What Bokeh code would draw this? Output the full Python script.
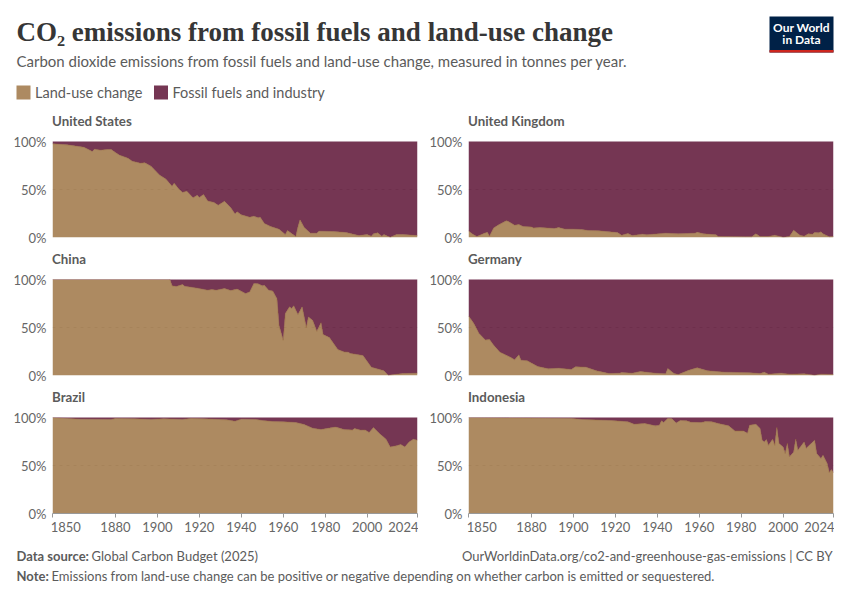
from bokeh.embed import file_html
from bokeh.layouts import column, row
from bokeh.models import BoxAnnotation, ColumnDataSource, FixedTicker, Label, Range1d
from bokeh.plotting import figure
from bokeh.resources import INLINE

# Share of land-use change in CO2 emissions (percent)
us_years = [1850,1857,1865,1869,1870,1873,1876,1878,1880,1882,1886,1888,1892,1894,1897,1901,1904,1907,1908,1910,1912,1914,1917,1919,1920,1922,1924,1927,1929,1932,1935,1937,1938,1940,1944,1946,1948,1949,1951,1954,1958,1961,1962,1966,1967,1968,1970,1973,1976,1977,1984,1990,1996,2000,2002,2003,2005,2007,2008,2011,2014,2017,2024]
us_land = [97.6,96.5,94,89.6,92,91,91.7,91.7,88.5,85.8,82.6,79.5,77.4,77.8,74.3,65,61,53.5,56.6,51,47,48.3,41.3,44,41.7,44.8,38,36.5,33.7,37.8,31,24.6,26.7,23.6,21.2,22.2,20.5,21.2,14.6,11.5,8.7,3,7.3,1,11,18.4,10.4,4.5,4.5,6.6,6.2,5.2,2,3,1.4,3.8,4.9,1.4,3,0.3,3,3,2]

uk_years = [1850,1852,1854,1857,1859,1860,1862,1864,1868,1869,1872,1874,1876,1880,1881,1884,1891,1893,1896,1900,1904,1907,1912,1917,1921,1923,1926,1928,1933,1935,1944,1950,1958,1959,1962,1968,1969,1982,1985,1987,1989,1993,1996,2000,2003,2005,2008,2010,2012,2014,2015,2017,2018,2019,2022,2024]
uk_land = [6.9,3.5,1,4,5.5,1.4,10,12.8,17.4,16.7,12.8,13.5,11.5,11,10,10.4,9.4,10.4,8.7,8.7,8.3,7.3,7,5.9,5.2,2.4,4.2,2,3.5,2.8,4.5,3.8,4.5,5.5,3.8,2.8,1,0.7,0.7,3.8,1,1,2.4,0.3,1,7.6,2.4,1.4,3.8,3.5,5.2,4.9,5.9,3.8,0.7,1]

cn_years = [1850,1906,1907,1909,1912,1913,1919,1924,1926,1928,1932,1935,1938,1942,1944,1946,1948,1950,1951,1953,1955,1957,1958,1960,1961,1963,1964,1965,1967,1969,1971,1972,1974,1976,1978,1979,1982,1986,1989,1991,1992,1998,2002,2008,2010,2013,2017,2024]
cn_land = [100,100,93.4,92.7,94.8,93,91,88.9,89.6,88.9,90.6,88.5,90,85.4,87,95.8,95.5,93.4,94,88.9,88,80,52,36.8,64.6,71.5,69.8,72.6,63.5,71.5,50,61,57.6,46,55,42.7,39.6,27,24.6,24.3,23,20.8,8.7,4.9,0.3,1,2,2.4]

de_years = [1850,1852,1853,1855,1858,1860,1862,1865,1868,1870,1872,1874,1875,1878,1883,1888,1893,1899,1901,1906,1911,1917,1922,1923,1928,1932,1939,1944,1945,1948,1950,1955,1959,1964,1972,1984,1989,1991,1993,1999,2003,2010,2015,2018,2024]
de_land = [62,56,52.4,43.8,37,37.5,31.6,24.3,21,19,16.3,21.5,16,15.3,9.4,7,7.6,6.3,9,8.7,4.9,2,2.4,3,2.4,4.2,2.4,1.7,7.3,2,1,5.5,8,4.9,3.5,2.8,2,3.5,1.4,2.4,1.4,1.7,0.3,1.4,1]

br_years = [1850,1857,1863,1878,1880,1889,1897,1903,1912,1916,1922,1933,1937,1940,1947,1950,1955,1960,1966,1970,1974,1978,1982,1985,1989,1993,1994,1997,1999,2001,2003,2006,2009,2011,2014,2016,2018,2020,2022,2024]
br_land = [100,99,98.3,98,99,98.6,98,98.6,98,99,98.6,97.6,96.2,98.3,98,96.9,95.8,95.5,94.8,92.7,88.9,87.5,89,90,87.5,87,88.5,86.8,87,84.4,89.6,83,77.4,69.4,70.5,72,69.4,74.6,77.4,76.4]

id_years = [1850,1899,1904,1918,1926,1929,1934,1939,1941,1942,1943,1945,1947,1949,1951,1954,1956,1961,1963,1966,1969,1974,1977,1981,1983,1984,1987,1989,1990,1991,1992,1993,1995,1996,1997,1998,2000,2001,2002,2003,2005,2006,2007,2010,2011,2015,2016,2018,2019,2021,2022,2023,2024]
id_land = [100,99,98,96.9,95.5,93,93.8,91.3,92,96.5,94.8,99,98.6,94.4,97,96.5,95,94.8,95.8,95.5,93.8,91.3,86,86,83.7,92,93,88.5,76.4,74.6,77,71,77.4,71,89.6,73,69.4,62.5,73,59,64,77.4,66,74.6,68,76.4,62.5,57.3,60.8,52,42.7,45.8,42.4]

countries = ["United States", "United Kingdom", "China", "Germany", "Brazil", "Indonesia"]
series_years = [us_years, uk_years, cn_years, de_years, br_years, id_years]
series_land = [us_land, uk_land, cn_land, de_land, br_land, id_land]
x_ticks = [1850, 1880, 1900, 1920, 1940, 1960, 1980, 2000, 2024]
y_ticks = [0, 50, 100]
y_tick_labels = {0: "0%", 50: "50%", 100: "100%"}
legend_labels = ["Land-use change", "Fossil fuels and industry"]

LAND = "#996d39"
FOSSIL = "#520428"
ALPHA = 0.8
SWATCH_LAND = "#ad8a61"
SWATCH_FOSSIL = "#753653"
GREY = "#5b5b5b"
TICK = "#666666"
SANS = "Lato"
SERIF = "Liberation Serif"

PLOT_W, PLOT_H = 365, 96
TOTAL_W = 834
HEADER_H, FOOTER_H = 100, 52
STRIP_H = 24
NBSP = "\u00a0"
PAD = NBSP * 8


def canvas(h):
    f = figure(width=TOTAL_W, height=h, output_backend="svg", toolbar_location=None,
               x_range=Range1d(0, TOTAL_W), y_range=Range1d(h, 0),
               x_axis_type=None, y_axis_type=None, min_border=0, outline_line_color=None)
    f.grid.visible = False
    return f


def text(f, x, y, s, size, color=GREY, style="normal", font=SANS, align="left"):
    f.add_layout(Label(x=x, y=y, text=s, text_font=font, text_font_size=f"{size}px",
                       text_font_style=style, text_color=color, text_align=align,
                       text_baseline="middle"))


def strip(i):
    f = canvas(STRIP_H)
    text(f, 43.5, 12, countries[i], 13.3, GREY, "bold")
    text(f, 459.5, 12, countries[i + 1], 13.3, GREY, "bold")
    return f


def panel(i):
    left = i % 2 == 0
    bottom_row = i >= 4
    if bottom_row:
        # the figure ends at the last tick, so its label stays flush with it
        bl = 44 if left else 50
        br = 1
    else:
        bl = 44 if left else 43
        br = 8 if left else 9
    bb = 27 if bottom_row else 9
    bt = 9
    p = figure(width=bl + PLOT_W + br, height=bt + PLOT_H + bb, output_backend="svg",
               toolbar_location=None, x_range=Range1d(x_ticks[0], x_ticks[-1]),
               y_range=Range1d(y_ticks[0], y_ticks[-1]), min_border_left=bl, min_border_right=br,
               min_border_top=bt, min_border_bottom=bb, outline_line_color=None)
    years = series_years[i]
    land = series_land[i]
    src = ColumnDataSource(dict(year=years, land=land, fossil=[100 - v for v in land],
                                total=[100] * len(years)))
    p.varea_stack(["land", "fossil"], x="year", source=src, color=[LAND, FOSSIL], alpha=ALPHA)
    p.line("year", "land", source=src, line_color=LAND, line_width=0.5)
    p.line("year", "total", source=src, line_color=FOSSIL, line_width=0.5)

    p.xgrid.visible = False
    p.ygrid.ticker = FixedTicker(ticks=y_ticks)
    p.ygrid.grid_line_color = "#dddddd"
    p.ygrid.grid_line_dash = [3, 4]

    p.yaxis.ticker = FixedTicker(ticks=y_ticks)
    p.yaxis.major_label_overrides = y_tick_labels
    p.yaxis.axis_line_color = None
    p.yaxis.major_tick_line_color = None
    p.yaxis.minor_tick_line_color = None
    p.yaxis.major_tick_in = 0
    p.yaxis.major_tick_out = 0
    p.yaxis.minor_tick_in = 0
    p.yaxis.minor_tick_out = 0
    p.yaxis.major_label_text_font = SANS
    p.yaxis.major_label_text_font_size = "13px"
    p.yaxis.major_label_text_color = TICK
    p.yaxis.major_label_standoff = 6

    if bottom_row:
        ax = p.xaxis[0]
        ax.ticker = FixedTicker(ticks=x_ticks)
        ax.major_label_overrides = {x_ticks[0]: PAD + str(x_ticks[0])}
        ax.minor_tick_line_color = None
        ax.axis_line_color = "#999999"
        ax.major_tick_line_color = "#999999"
        ax.major_tick_in = 0
        ax.major_tick_out = 4
        ax.major_label_text_font = SANS
        ax.major_label_text_font_size = "13px"
        ax.major_label_text_color = TICK
        ax.major_label_standoff = 1
    else:
        p.xaxis.visible = False
    return p


header = canvas(HEADER_H)
text(header, 8, 23, "CO₂ emissions from fossil fuels and land-use change", 27, "#363636", "bold", SERIF)
text(header, 8, 52.5, "Carbon dioxide emissions from fossil fuels and land-use change, measured in tonnes per year.", 15)
header.add_layout(BoxAnnotation(left=8, right=22, top=77, bottom=91, fill_color=SWATCH_LAND,
                                fill_alpha=1, line_color=None, level="overlay"))
text(header, 26.5, 84, legend_labels[0], 14.5)
header.add_layout(BoxAnnotation(left=145.5, right=159.5, top=77, bottom=91, fill_color=SWATCH_FOSSIL,
                                fill_alpha=1, line_color=None, level="overlay"))
text(header, 164, 84, legend_labels[1], 14.5)
# logo
header.add_layout(BoxAnnotation(left=761, right=825, top=8, bottom=44, fill_color="#002147",
                                fill_alpha=1, line_color=None))
header.add_layout(BoxAnnotation(left=761, right=825, top=41.5, bottom=44, fill_color="#ce261e",
                                fill_alpha=1, line_color=None))
text(header, 793, 19, "Our World", 12, "#ffffff", "bold", SANS, "center")
text(header, 793, 31, "in Data", 12, "#ffffff", "bold", SANS, "center")

footer = canvas(FOOTER_H)
text(footer, 8, 15, "Data source:", 13, GREY, "bold")
text(footer, 83, 15, "Global Carbon Budget (2025)", 13)
text(footer, 824, 15, "OurWorldinData.org/co2-and-greenhouse-gas-emissions | CC BY", 13, align="right")
text(footer, 8, 35.5, "Note:", 13, GREY, "bold")
text(footer, 43, 35.5, "Emissions from land-use change can be positive or negative depending on whether carbon is emitted or sequestered.", 13)

panels = [panel(i) for i in range(6)]
page = column(header,
              strip(0), row(panels[0], panels[1]),
              strip(2), row(panels[2], panels[3]),
              strip(4), row(panels[4], panels[5]),
              footer, spacing=0, margin=(8, 0, 0, 8))
open("out.html", "w").write(file_html(page, INLINE))
